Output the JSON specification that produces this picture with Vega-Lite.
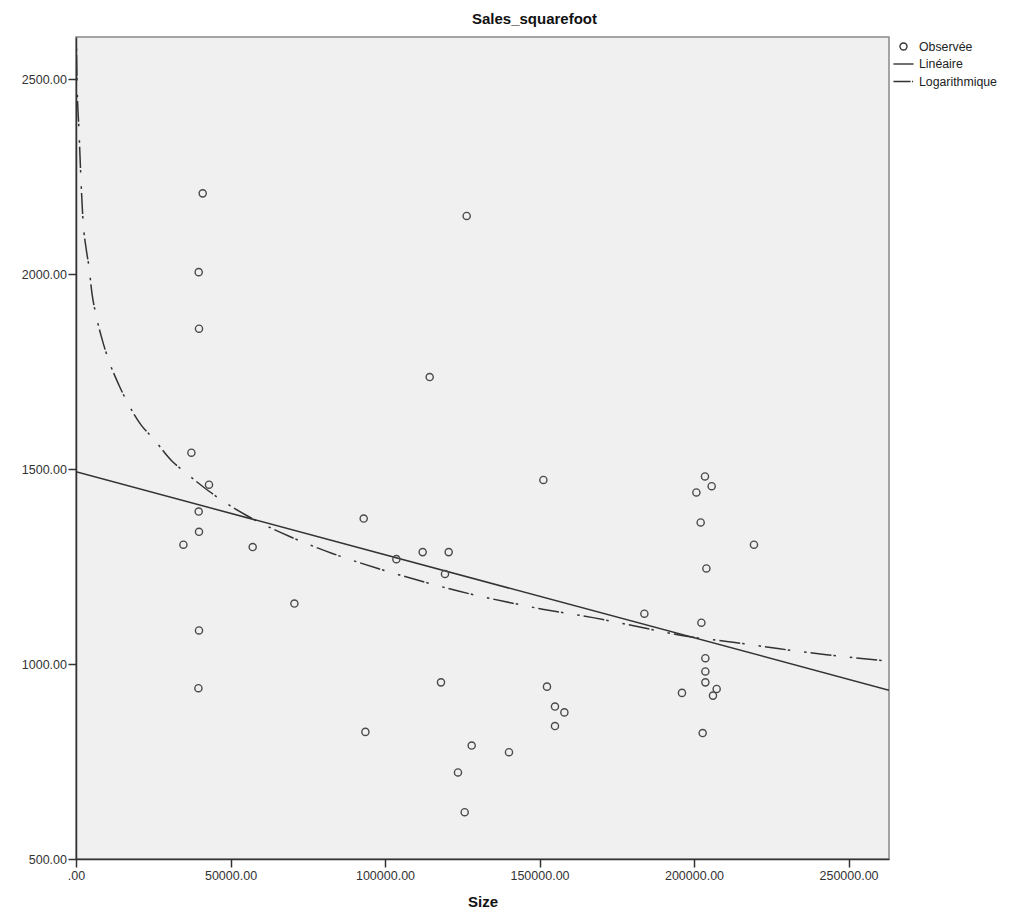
{
  "$schema": "https://vega.github.io/schema/vega-lite/v6.json",
  "width": 813,
  "height": 822,
  "autosize": {"type": "none"},
  "padding": {"left": 76, "top": 37, "right": 135, "bottom": 60},
  "background": "white",
  "title": {
    "text": "Sales_squarefoot",
    "font": "Liberation Sans",
    "fontSize": 15,
    "fontWeight": "bold",
    "color": "#111",
    "anchor": "middle",
    "dx": 52,
    "offset": 10
  },
  "config": {
    "view": {"fill": "#f0f0f0", "stroke": "#888", "strokeWidth": 1.5},
    "axis": {
      "grid": false,
      "domainColor": "#333",
      "domainWidth": 1.5,
      "tickColor": "#333",
      "tickWidth": 1.5,
      "tickSize": 8,
      "labelFont": "Liberation Sans",
      "labelFontSize": 12.5,
      "labelColor": "#333",
      "titleFont": "Liberation Sans",
      "titleFontSize": 15,
      "titleFontWeight": "bold",
      "titleColor": "#111"
    }
  },
  "datasets": {
    "observed": [
      {"size": 41000, "sales": 2207, "serie": "Observée"},
      {"size": 39706, "sales": 2005, "serie": "Observée"},
      {"size": 39803, "sales": 1860, "serie": "Observée"},
      {"size": 37343, "sales": 1542, "serie": "Observée"},
      {"size": 43039, "sales": 1460, "serie": "Observée"},
      {"size": 39706, "sales": 1391, "serie": "Observée"},
      {"size": 39803, "sales": 1339, "serie": "Observée"},
      {"size": 34755, "sales": 1306, "serie": "Observée"},
      {"size": 57180, "sales": 1300, "serie": "Observée"},
      {"size": 70674, "sales": 1155, "serie": "Observée"},
      {"size": 39803, "sales": 1086, "serie": "Observée"},
      {"size": 39609, "sales": 938, "serie": "Observée"},
      {"size": 126431, "sales": 2149, "serie": "Observée"},
      {"size": 114457, "sales": 1736, "serie": "Observée"},
      {"size": 151251, "sales": 1472, "serie": "Observée"},
      {"size": 93100, "sales": 1373, "serie": "Observée"},
      {"size": 103681, "sales": 1269, "serie": "Observée"},
      {"size": 112192, "sales": 1287, "serie": "Observée"},
      {"size": 120606, "sales": 1287, "serie": "Observée"},
      {"size": 119408, "sales": 1231, "serie": "Observée"},
      {"size": 118114, "sales": 953, "serie": "Observée"},
      {"size": 152416, "sales": 942, "serie": "Observée"},
      {"size": 155004, "sales": 891, "serie": "Observée"},
      {"size": 158046, "sales": 876, "serie": "Observée"},
      {"size": 155004, "sales": 841, "serie": "Observée"},
      {"size": 93650, "sales": 826, "serie": "Observée"},
      {"size": 128049, "sales": 791, "serie": "Observée"},
      {"size": 140119, "sales": 774, "serie": "Observée"},
      {"size": 123615, "sales": 722, "serie": "Observée"},
      {"size": 125783, "sales": 620, "serie": "Observée"},
      {"size": 203544, "sales": 1481, "serie": "Observée"},
      {"size": 205713, "sales": 1456, "serie": "Observée"},
      {"size": 200761, "sales": 1440, "serie": "Observée"},
      {"size": 202153, "sales": 1363, "serie": "Observée"},
      {"size": 219401, "sales": 1306, "serie": "Observée"},
      {"size": 203997, "sales": 1245, "serie": "Observée"},
      {"size": 183934, "sales": 1129, "serie": "Observée"},
      {"size": 202379, "sales": 1106, "serie": "Observée"},
      {"size": 203674, "sales": 1015, "serie": "Observée"},
      {"size": 203674, "sales": 981, "serie": "Observée"},
      {"size": 203674, "sales": 953, "serie": "Observée"},
      {"size": 207331, "sales": 936, "serie": "Observée"},
      {"size": 196102, "sales": 926, "serie": "Observée"},
      {"size": 206133, "sales": 919, "serie": "Observée"},
      {"size": 202800, "sales": 823, "serie": "Observée"}
    ],
    "linear": [
      {"size": 0, "sales": 1493},
      {"size": 263100, "sales": 933}
    ],
    "logarithmic": [
      {"size": 60, "sales": 2680},
      {"size": 130, "sales": 2600},
      {"size": 324, "sales": 2497},
      {"size": 971, "sales": 2368},
      {"size": 1521, "sales": 2258},
      {"size": 2265, "sales": 2138},
      {"size": 3365, "sales": 2061},
      {"size": 4207, "sales": 2018},
      {"size": 5178, "sales": 1950},
      {"size": 6375, "sales": 1899},
      {"size": 8543, "sales": 1830},
      {"size": 10355, "sales": 1784},
      {"size": 13915, "sales": 1715},
      {"size": 16309, "sales": 1676},
      {"size": 21163, "sales": 1612},
      {"size": 24917, "sales": 1579},
      {"size": 30871, "sales": 1522},
      {"size": 35725, "sales": 1489},
      {"size": 42715, "sales": 1445},
      {"size": 47569, "sales": 1418},
      {"size": 55659, "sales": 1379},
      {"size": 69153, "sales": 1327},
      {"size": 83166, "sales": 1283},
      {"size": 97727, "sales": 1245},
      {"size": 112839, "sales": 1210},
      {"size": 127401, "sales": 1180},
      {"size": 141963, "sales": 1155},
      {"size": 150053, "sales": 1142},
      {"size": 167300, "sales": 1119},
      {"size": 182413, "sales": 1095},
      {"size": 197525, "sales": 1071},
      {"size": 212605, "sales": 1056},
      {"size": 227713, "sales": 1039},
      {"size": 242829, "sales": 1024},
      {"size": 263100, "sales": 1007}
    ]
  },
  "encoding": {
    "x": {
      "field": "size",
      "type": "quantitative",
      "title": "Size",
      "scale": {"domain": [0, 263100], "nice": false, "zero": false},
      "axis": {
        "values": [0, 50000, 100000, 150000, 200000, 250000],
        "labelExpr": "datum.value === 0 ? '.00' : format(datum.value, '.2f')",
        "labelFlush": false,
        "labelPadding": 2,
        "titlePadding": 13
      }
    },
    "y": {
      "field": "sales",
      "type": "quantitative",
      "title": null,
      "scale": {"domain": [500, 2608], "nice": false, "zero": false},
      "axis": {
        "values": [500, 1000, 1500, 2000, 2500],
        "format": ".2f",
        "labelFlush": false,
        "labelPadding": 1.5
      }
    }
  },
  "layer": [
    {
      "data": {"name": "linear"},
      "mark": {"type": "line", "color": "#333", "strokeWidth": 1.5, "clip": true}
    },
    {
      "data": {"name": "logarithmic"},
      "mark": {
        "type": "line",
        "color": "#333",
        "strokeWidth": 1.5,
        "strokeDash": [21, 2, 2.5, 14, 2.5, 4],
        "interpolate": "monotone",
        "clip": true
      }
    },
    {
      "data": {"name": "observed"},
      "mark": {"type": "point", "filled": false, "color": "#4a4a4a", "strokeWidth": 1.4, "size": 290, "opacity": 1},
      "encoding": {
        "shape": {
          "field": "serie",
          "type": "nominal",
          "scale": {
            "domain": ["Observée", "Linéaire", "Logarithmique"],
            "range": [
              "M0.42,0A0.42,0.42,0,1,1,-0.42,0A0.42,0.42,0,1,1,0.42,0Z",
              "M-1.2,0L1.2,0",
              "M-1.2,0L0.85,0M1.02,0L1.15,0"
            ]
          },
          "legend": {
            "title": null,
            "orient": "right",
            "offset": 5,
            "padding": 0,
            "symbolSize": 280,
            "symbolStrokeWidth": 1.4,
            "symbolStrokeColor": "#333",
            "symbolFillColor": "transparent",
            "labelFont": "Liberation Sans",
            "labelFontSize": 12.3,
            "labelColor": "#222",
            "labelOffset": 6,
            "labelLimit": 200,
            "rowPadding": 1.5
          }
        }
      }
    }
  ]
}
